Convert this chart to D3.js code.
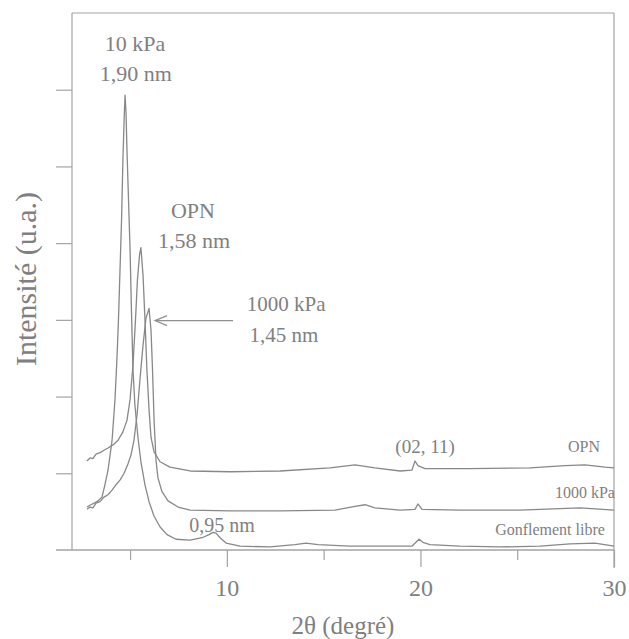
<!DOCTYPE html>
<html>
<head>
<meta charset="utf-8">
<script src="https://cdn.jsdelivr.net/npm/d3@7"></script>
<style>
  body { margin: 0; background: #fff; }
  text { font-family: "Liberation Serif", "DejaVu Serif", serif; fill: #808080; }
</style>
</head>
<body>
<div id="chart"></div>
<script>
// 2theta (deg), intensity (a.u.)
const opn = [
  [2.77, 1.16], [2.93, 1.20], [3.08, 1.19], [3.24, 1.25], [3.45, 1.27], [3.65, 1.30], [3.86, 1.33],
  [4.12, 1.37], [4.38, 1.43], [4.63, 1.54], [4.84, 1.69], [5.00, 1.96], [5.15, 2.41], [5.28, 3.00],
  [5.38, 3.52], [5.49, 3.85], [5.56, 3.94], [5.67, 3.58], [5.77, 3.00], [5.87, 2.35], [5.98, 1.83],
  [6.08, 1.47], [6.24, 1.28], [6.55, 1.15], [7.06, 1.08], [8.10, 1.03], [10.16, 1.02], [12.75, 1.03],
  [15.33, 1.07], [16.62, 1.11], [17.65, 1.07], [18.95, 1.03], [19.56, 1.04], [19.72, 1.16],
  [19.87, 1.10], [20.24, 1.06], [22.56, 1.06], [25.66, 1.07], [27.47, 1.10], [28.50, 1.11],
  [29.54, 1.08], [30.0, 1.07]
];

const kpa1000 = [
  [2.77, 0.53], [2.93, 0.56], [3.08, 0.55], [3.24, 0.61], [3.45, 0.63], [3.65, 0.69], [3.86, 0.72],
  [4.07, 0.78], [4.27, 0.85], [4.48, 0.91], [4.69, 1.00], [4.89, 1.12], [5.05, 1.24], [5.20, 1.43],
  [5.36, 1.76], [5.51, 2.22], [5.67, 2.67], [5.82, 3.02], [5.98, 3.15], [6.08, 2.87], [6.16, 2.35],
  [6.24, 1.69], [6.34, 1.17], [6.44, 0.94], [6.65, 0.76], [6.96, 0.64], [7.48, 0.56], [8.10, 0.52],
  [10.16, 0.51], [12.75, 0.51], [15.59, 0.52], [16.62, 0.57], [17.14, 0.59], [17.65, 0.55],
  [18.95, 0.52], [19.72, 0.53], [19.87, 0.60], [20.08, 0.53], [22.04, 0.52], [25.14, 0.52],
  [28.24, 0.55], [30.0, 0.52]
];

const libre = [
  [2.77, 0.56], [2.98, 0.59], [3.14, 0.61], [3.34, 0.64], [3.55, 0.69], [3.70, 0.85], [3.86, 1.04],
  [4.07, 1.43], [4.22, 1.96], [4.32, 2.48], [4.40, 3.00], [4.48, 3.65], [4.56, 4.30], [4.63, 5.08],
  [4.70, 5.67], [4.74, 5.93], [4.79, 5.71], [4.84, 5.21], [4.92, 4.56], [5.00, 3.91], [5.07, 3.13],
  [5.15, 2.35], [5.25, 1.89], [5.41, 1.46], [5.56, 1.15], [5.77, 0.85], [5.98, 0.63], [6.24, 0.44],
  [6.55, 0.30], [6.91, 0.20], [7.37, 0.14], [8.10, 0.13], [8.72, 0.16], [9.08, 0.20], [9.28, 0.23],
  [9.44, 0.22], [9.65, 0.16], [9.96, 0.09], [10.68, 0.05], [12.23, 0.04], [13.52, 0.07],
  [14.09, 0.09], [14.71, 0.07], [16.36, 0.05], [17.91, 0.05], [19.56, 0.05], [19.77, 0.10],
  [19.93, 0.14], [20.13, 0.10], [20.49, 0.07], [22.04, 0.05], [24.11, 0.04], [26.18, 0.05],
  [27.73, 0.08], [29.02, 0.09], [30.0, 0.05]
];

const seriesNames = ["OPN", "1000 kPa", "Gonflement libre"];
const xTickLabels = [10, 20, 30];
const xMinorTicks = [5, 15, 25];
const yTicks = [1, 2, 3, 4, 5, 6];

var width = 629, height = 639;
var plotLeft = 72, plotRight = 614, plotTop = 13, plotBottom = 550;

var svg = d3.select("#chart")
  .append("svg")
    .attr("width", width)
    .attr("height", height)

var xScale = d3.scaleLinear()
  .domain([2, 30])
  .range([plotLeft, plotRight])

var yScale = d3.scaleLinear()
  .domain([0, 7])
  .range([plotBottom, plotTop])

var axisColor = "#a3a3a3"

// frame top + right
svg.append("line")
  .attr("x1", plotLeft).attr("x2", plotRight)
  .attr("y1", plotTop).attr("y2", plotTop)
  .style("stroke", axisColor).style("stroke-width", 1.2)

svg.append("line")
  .attr("x1", plotRight).attr("x2", plotRight)
  .attr("y1", plotTop).attr("y2", plotBottom + 18)
  .style("stroke", axisColor).style("stroke-width", 1.2)

// left axis, ticks outside, no labels
svg.append("g")
  .attr("transform", "translate(" + plotLeft + ",0)")
  .call(d3.axisLeft(yScale)
    .tickValues(yTicks)
    .tickSize(16)
    .tickFormat(""))
  .call(g => g.select(".domain").attr("d", "M0," + plotTop + "V" + plotBottom))
  .call(g => g.selectAll("line, path").style("stroke", axisColor).style("stroke-width", 1.2))

// bottom axis
svg.append("line")
  .attr("x1", 56).attr("x2", plotRight)
  .attr("y1", plotBottom).attr("y2", plotBottom)
  .style("stroke", axisColor).style("stroke-width", 1.4)

svg.append("g")
  .attr("transform", "translate(0," + plotBottom + ")")
  .call(d3.axisBottom(xScale)
    .tickValues(xMinorTicks)
    .tickSize(10)
    .tickFormat(""))
  .call(g => g.select(".domain").remove())
  .call(g => g.selectAll("line").style("stroke", axisColor).style("stroke-width", 1.2))

svg.append("g")
  .attr("transform", "translate(0," + plotBottom + ")")
  .call(d3.axisBottom(xScale)
    .tickValues(xTickLabels)
    .tickSize(17)
    .tickPadding(12))
  .call(g => g.select(".domain").remove())
  .call(g => g.selectAll("line").style("stroke", axisColor).style("stroke-width", 1.2))
  .call(g => g.selectAll("text")
    .style("font-size", "24px")
    .style("font-family", "Liberation Serif")
    .style("fill", "#808080"))

// curves
var line = d3.line()
  .x(d => xScale(d[0]))
  .y(d => yScale(d[1]))

var allSeries = [opn, kpa1000, libre]

svg.selectAll(".curve")
  .data(allSeries)
  .enter()
  .append("path")
  .attr("class", "curve")
  .attr("d", line)
  .style("fill", "none")
  .style("stroke", "#888888")
  .style("stroke-width", 1.3)
  .style("stroke-linejoin", "round")

// labels
function label(txt, t, v, size, anchor) {
  svg.append("text")
    .attr("x", xScale(t))
    .attr("y", yScale(v))
    .attr("text-anchor", anchor || "middle")
    .style("font-size", size + "px")
    .text(txt)
}

label("10 kPa", 5.25, 6.50, 22)
label("1,90 nm", 5.30, 6.11, 22)
label("OPN", 8.25, 4.33, 22)
label("1,58 nm", 8.30, 3.94, 22)
label("1000 kPa", 13.06, 3.12, 21)
label("1,45 nm", 12.95, 2.71, 21)
label("0,95 nm", 9.75, 0.23, 20)
label("(02, 11)", 20.24, 1.26, 19)

// series names at the right
label(seriesNames[0], 29.28, 1.28, 16, "end")
label(seriesNames[1], 30.05, 0.68, 16, "end")
label(seriesNames[2], 29.53, 0.20, 16, "end")

// arrow to 1000 kPa peak
var ay = yScale(2.99), ax0 = xScale(10.32), ax1 = xScale(6.29)
svg.append("line")
  .attr("x1", ax0).attr("x2", ax1)
  .attr("y1", ay).attr("y2", ay)
  .style("stroke", "#909090").style("stroke-width", 1.2)

svg.append("path")
  .attr("d", "M" + (ax1 + 12) + "," + (ay - 5) + "L" + ax1 + "," + ay + "L" + (ax1 + 12) + "," + (ay + 5))
  .style("fill", "none")
  .style("stroke", "#909090").style("stroke-width", 1.2)

// axis titles
svg.append("text")
  .attr("x", (plotLeft + plotRight) / 2)
  .attr("y", 634)
  .attr("text-anchor", "middle")
  .style("font-size", "25px")
  .text("2θ (degré)")

svg.append("text")
  .attr("transform", "translate(36," + 279 + ") rotate(-90)")
  .attr("text-anchor", "middle")
  .style("font-size", "30px")
  .text("Intensité (u.a.)")
</script>
</body>
</html>
